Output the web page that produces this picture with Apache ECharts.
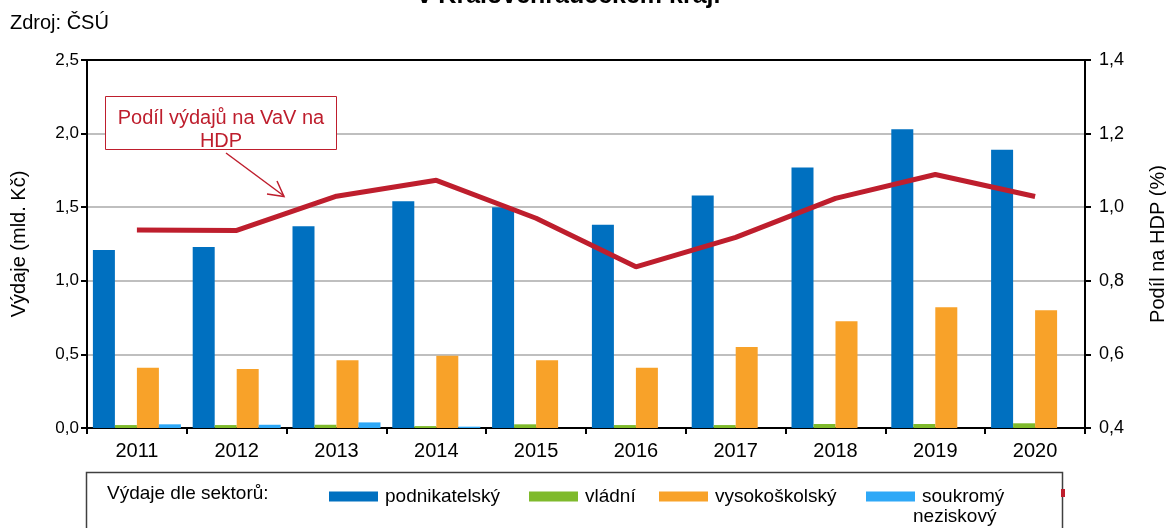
<!DOCTYPE html>
<html>
<head>
<meta charset="utf-8">
<script src="https://cdn.jsdelivr.net/npm/echarts@6/dist/echarts.min.js"></script>
<style>
html,body{margin:0;padding:0;background:#fff;overflow:hidden;}
#c{width:1166px;height:528px;}
</style>
</head>
<body>
<div id="c"></div>
<script>
const years = ['2011','2012','2013','2014','2015','2016','2017','2018','2019','2020'];
const podnikatelsky = [1.21, 1.23, 1.37, 1.54, 1.50, 1.38, 1.58, 1.77, 2.03, 1.89];
const vladni = [0.020, 0.020, 0.022, 0.013, 0.025, 0.020, 0.020, 0.027, 0.027, 0.032];
const vysokoskolsky = [0.41, 0.40, 0.46, 0.49, 0.46, 0.41, 0.55, 0.725, 0.82, 0.80];
const soukromyNeziskovy = [0.025, 0.022, 0.038, 0.009, 0, 0, 0, 0, 0, 0];
const podilHDP = [0.938, 0.937, 1.030, 1.073, 0.970, 0.838, 0.918, 1.024, 1.089, 1.029];
const leftTicks = [0, 0.5, 1.0, 1.5, 2.0, 2.5];
const rightTicks = [0.4, 0.6, 0.8, 1.0, 1.2, 1.4];

const FONT = '"Liberation Sans", Arial, sans-serif';
const C_BLUE = '#0070C0', C_GREEN = '#7FBA2C', C_ORANGE = '#F8A229', C_LBLUE = '#2EA8F7', C_RED = '#BE1E2D';
const fmt = v => v.toFixed(1).replace('.', ',');

const chart = echarts.init(document.getElementById('c'), null, {renderer: 'canvas'});
const legendBase = {
  top: 482, icon: 'rect', itemWidth: 49, itemHeight: 10, itemGap: 0,
  selectedMode: false,
  textStyle: {fontFamily: FONT, fontSize: 19, color: '#000', padding: [0, 0, 0, 2]}
};
chart.setOption({
  animation: false,
  textStyle: {fontFamily: FONT},
  title: {
    text: 'v Královéhradeckém kraji',
    left: 564, textAlign: 'center', top: -21,
    textStyle: {fontFamily: FONT, fontWeight: 'bold', fontSize: 25, color: '#000'}
  },
  grid: {left: 87, right: 81, top: 60, bottom: 100, containLabel: false, outerBoundsMode: 'none'},
  legend: [
    Object.assign({}, legendBase, {left: 324, data: ['podnikatelský']}),
    Object.assign({}, legendBase, {left: 524, data: ['vládní']}),
    Object.assign({}, legendBase, {left: 654, data: ['vysokoškolský']}),
    Object.assign({}, legendBase, {left: 861, data: ['soukromý neziskový'], formatter: () => 'soukromý'})
  ],
  xAxis: {
    type: 'category', data: years, boundaryGap: true,
    axisLine: {lineStyle: {color: '#000', width: 2}},
    axisTick: {show: true, length: 6, lineStyle: {color: '#000', width: 2}},
    axisLabel: {fontSize: 20, color: '#000', margin: 13, fontFamily: FONT}
  },
  yAxis: [
    {
      type: 'value', min: 0, max: 2.5, interval: 0.5,
      name: 'Výdaje (mld. Kč)', nameLocation: 'middle', nameGap: 58, nameRotate: 90,
      nameTextStyle: {fontSize: 20, color: '#000', fontFamily: FONT},
      axisLine: {show: true, lineStyle: {color: '#000', width: 2}},
      axisTick: {show: true, length: 6, lineStyle: {color: '#000', width: 2}},
      axisLabel: {fontSize: 17, color: '#000', margin: 8, formatter: fmt, fontFamily: FONT},
      splitLine: {show: true, lineStyle: {color: ['#BFBFBF','#BFBFBF','#BFBFBF','#BFBFBF','#BFBFBF','#000'], width: 2}}
    },
    {
      type: 'value', min: 0.4, max: 1.4, interval: 0.2, position: 'right',
      name: 'Podíl na HDP (%)', nameLocation: 'middle', nameGap: 63, nameRotate: 90,
      nameTextStyle: {fontSize: 20, color: '#000', fontFamily: FONT},
      axisLine: {show: true, lineStyle: {color: '#000', width: 2}},
      axisTick: {show: true, length: 6, lineStyle: {color: '#000', width: 2}},
      axisLabel: {fontSize: 18, color: '#000', margin: 14, formatter: fmt, fontFamily: FONT},
      splitLine: {show: false}
    }
  ],
  series: [
    {name: 'podnikatelský', type: 'bar', data: podnikatelsky, barWidth: 22, barGap: '0%', itemStyle: {color: C_BLUE}},
    {name: 'vládní', type: 'bar', data: vladni, barWidth: 22, barGap: '0%', itemStyle: {color: C_GREEN}},
    {name: 'vysokoškolský', type: 'bar', data: vysokoskolsky, barWidth: 22, barGap: '0%', itemStyle: {color: C_ORANGE}},
    {name: 'soukromý neziskový', type: 'bar', data: soukromyNeziskovy, barWidth: 22, barGap: '0%', itemStyle: {color: C_LBLUE}},
    {name: 'Podíl výdajů na VaV na HDP', type: 'line', yAxisIndex: 1, data: podilHDP,
     showSymbol: false, symbol: 'none', lineStyle: {color: C_RED, width: 5}, z: 5}
  ],
  graphic: [
    {type: 'text', left: 10, top: 13, style: {text: 'Zdroj: ČSÚ', font: '20px ' + FONT, fill: '#000'}},
    {type: 'rect', shape: {x: 105.5, y: 96.5, width: 231, height: 53},
     style: {fill: '#fff', stroke: C_RED, lineWidth: 1}, z: 10},
    {type: 'text', x: 221, y: 107, z: 11,
     style: {text: 'Podíl výdajů na VaV na\nHDP', font: '20px ' + FONT, fill: C_RED, align: 'center', lineHeight: 23}},
    {type: 'line', shape: {x1: 226, y1: 153, x2: 284, y2: 196}, style: {stroke: C_RED, lineWidth: 1.5}, z: 10},
    {type: 'polyline', shape: {points: [[267, 194], [284, 196.5], [277, 181]]}, style: {stroke: C_RED, lineWidth: 1.5, fill: null}, z: 10},
    {type: 'rect', shape: {x: 86.5, y: 472.5, width: 976, height: 70},
     style: {fill: null, stroke: '#404040', lineWidth: 1.5}, z: 0},
    {type: 'text', left: 107, top: 484, style: {text: 'Výdaje dle sektorů:', font: '19px ' + FONT, fill: '#000'}},
    {type: 'text', left: 913, top: 507, style: {text: 'neziskový', font: '19px ' + FONT, fill: '#000'}},
    {type: 'rect', shape: {x: 1061, y: 489, width: 4, height: 8}, style: {fill: C_RED}, z: 1}
  ]
});
</script>
</body>
</html>
